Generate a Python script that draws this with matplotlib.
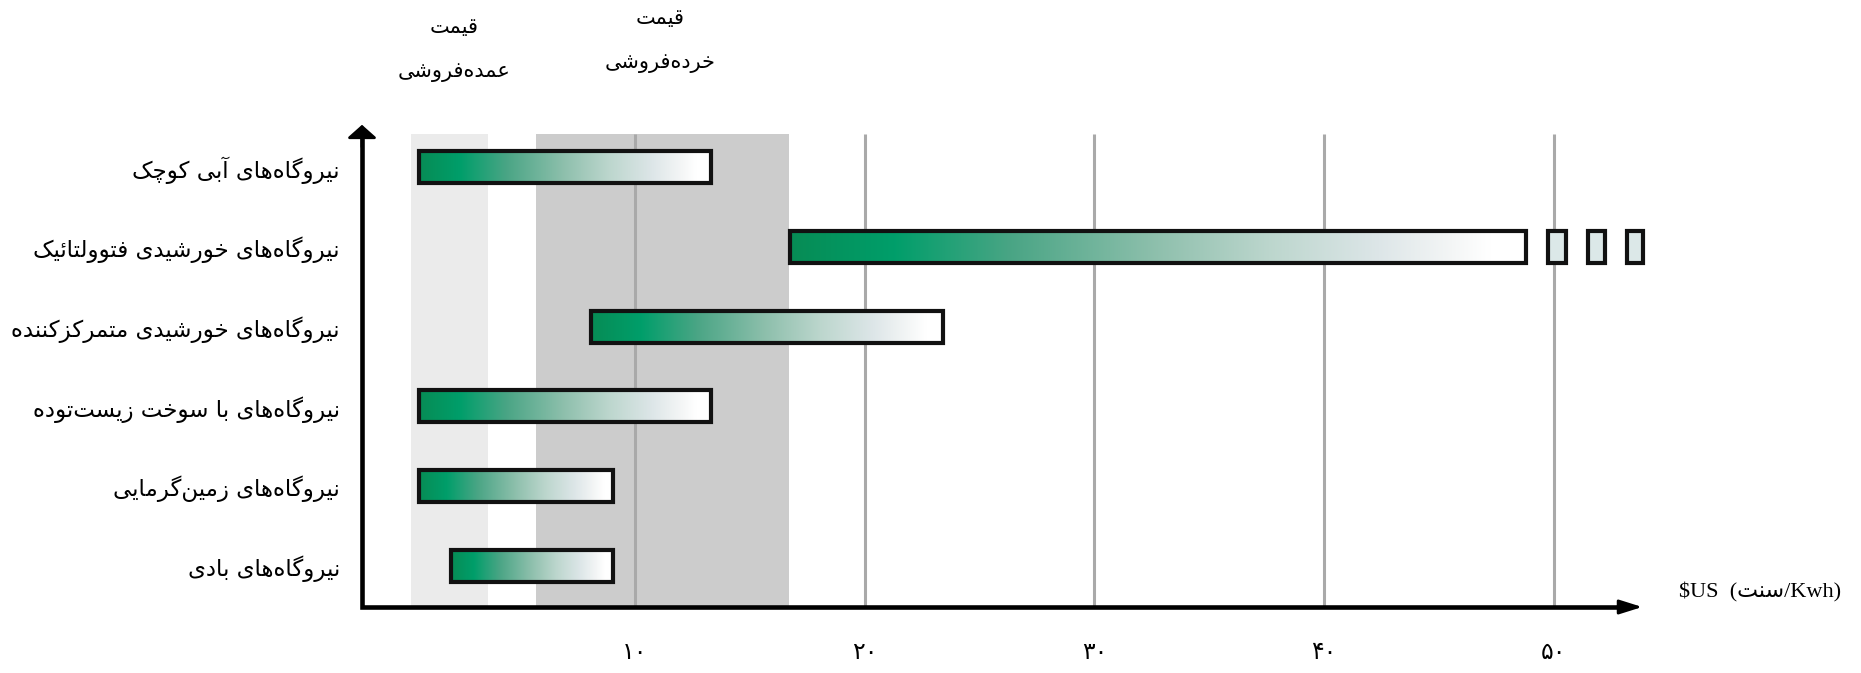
import numpy as np
import matplotlib
matplotlib.use('Agg')
import matplotlib.pyplot as plt
from matplotlib.colors import LinearSegmentedColormap
from matplotlib.patches import Rectangle

# data (cents / kWh)
plants = [
    'نیروگاه\u200cهای بادی',
    'نیروگاه\u200cهای زمین\u200cگرمایی',
    'نیروگاه\u200cهای با سوخت زیست\u200cتوده',
    'نیروگاه\u200cهای خورشیدی متمرکزکننده',
    'نیروگاه\u200cهای خورشیدی فتوولتائیک',
    'نیروگاه\u200cهای آبی کوچک',
]
cost_low = [2.0, 0.6, 0.6, 8.07, 16.75, 0.6]
cost_high = [9.05, 9.05, 13.3, 23.4, 48.8, 13.3]
pv_more = [(49.75, 50.55), (51.5, 52.25), (53.2, 53.9)]  # the three little "..." boxes

wholesale = (0.24, 3.61)
retail = (5.68, 16.69)
band_labels = ['قیمت\nعمده\u200cفروشی', 'قیمت\nخرده\u200cفروشی']

xticks = [10, 20, 30, 40, 50]
xtick_labels = ['۱۰', '۲۰', '۳۰', '۴۰', '۵۰']
unit_word = 'سنت'


# matplotlib does no arabic shaping, so do it by hand
FORMS = {
    'ا': ('\uFE8D', '\uFE8E', None, None),
    'آ': ('\uFE81', '\uFE82', None, None),
    'ب': ('\uFE8F', '\uFE90', '\uFE91', '\uFE92'),
    'ت': ('\uFE95', '\uFE96', '\uFE97', '\uFE98'),
    'چ': ('\uFB7A', '\uFB7B', '\uFB7C', '\uFB7D'),
    'خ': ('\uFEA5', '\uFEA6', '\uFEA7', '\uFEA8'),
    'د': ('\uFEA9', '\uFEAA', None, None),
    'ر': ('\uFEAD', '\uFEAE', None, None),
    'ز': ('\uFEAF', '\uFEB0', None, None),
    'س': ('\uFEB1', '\uFEB2', '\uFEB3', '\uFEB4'),
    'ش': ('\uFEB5', '\uFEB6', '\uFEB7', '\uFEB8'),
    'ع': ('\uFEC9', '\uFECA', '\uFECB', '\uFECC'),
    'ف': ('\uFED1', '\uFED2', '\uFED3', '\uFED4'),
    'ق': ('\uFED5', '\uFED6', '\uFED7', '\uFED8'),
    'ک': ('\uFB8E', '\uFB8F', '\uFB90', '\uFB91'),
    'گ': ('\uFB92', '\uFB93', '\uFB94', '\uFB95'),
    'ل': ('\uFEDD', '\uFEDE', '\uFEDF', '\uFEE0'),
    'م': ('\uFEE1', '\uFEE2', '\uFEE3', '\uFEE4'),
    'ن': ('\uFEE5', '\uFEE6', '\uFEE7', '\uFEE8'),
    'ه': ('\uFEE9', '\uFEEA', '\uFEEB', '\uFEEC'),
    'و': ('\uFEED', '\uFEEE', None, None),
    'ی': ('\uFBFC', '\uFBFD', '\uFBFE', '\uFBFF'),
    'ئ': ('\uFE89', '\uFE8A', '\uFE8B', '\uFE8C'),
}


def shape_line(txt):
    txt = txt.replace('ي', 'ی').replace('ك', 'ک')
    out = []
    for i, c in enumerate(txt):
        if c == '\u200c':
            continue
        if c not in FORMS:
            out.append(c)
            continue
        f = FORMS[c]
        prev = txt[i - 1] if i > 0 else ''
        nxt = txt[i + 1] if i < len(txt) - 1 else ''
        jp = prev in FORMS and FORMS[prev][2] is not None
        jn = f[2] is not None and nxt in FORMS
        if jp and jn:
            out.append(f[3])
        elif jp:
            out.append(f[1])
        elif jn:
            out.append(f[2])
        else:
            out.append(f[0])
    return ''.join(out)[::-1]


def fa(txt):
    return '\n'.join(shape_line(l) for l in txt.split('\n'))


plt.rcParams['font.family'] = ['DejaVu Sans']

fig = plt.figure(figsize=(18.61, 6.73), dpi=100)
ax = fig.add_axes([362 / 1861, 66 / 673, 1283 / 1861, 485 / 673])
ax.set_xlim(-1.885, 53.97)
ax.set_ylim(-0.514, 5.564)
band_top = 5.414

for (a, b), col in [(wholesale, '#ebebeb'), (retail, '#cccccc')]:
    ax.fill_betweenx([-0.514, band_top], a, b, color=col, lw=0, zorder=0)
ax.vlines(xticks, -0.514, band_top, color='#a9a9a9', lw=2.2, zorder=1)

cmap = LinearSegmentedColormap.from_list('g', [
    (0.0, '#078c55'), (0.14, '#009e6a'), (0.3, '#4aa585'), (0.5, '#8fc0ad'),
    (0.65, '#bcd6cd'), (0.8, '#dde6e8'), (0.9, '#f4f6f6'), (0.95, '#ffffff'),
    (1.0, '#ffffff')])
grad = np.linspace(0, 1, 256).reshape(1, -1)
h = 0.40
for i in range(len(plants)):
    lo, hi = cost_low[i], cost_high[i]
    ax.imshow(grad, extent=[lo, hi, i - h / 2, i + h / 2], aspect='auto',
              cmap=cmap, interpolation='bilinear', zorder=2)
    ax.add_patch(Rectangle((lo, i - h / 2), hi - lo, h, fill=False,
                           ec='#111111', lw=3.0, zorder=3))
for lo, hi in pv_more:
    ax.add_patch(Rectangle((lo, 4 - h / 2), hi - lo, h, fc='#dce8e8',
                           ec='#111111', lw=3.0, zorder=3, clip_on=False))

ax.set_xlim(-1.885, 53.97)
ax.set_ylim(-0.514, 5.564)

for s in ax.spines.values():
    s.set_visible(False)
ax.set_yticks(range(len(plants)))
ax.set_yticklabels([fa(p) for p in plants], fontsize=16.5)
ax.set_xticks(xticks)
ax.set_xticklabels(xtick_labels, fontsize=17)
ax.tick_params(axis='y', length=0, pad=16)
ax.tick_params(axis='x', length=0, pad=24)

# axes with arrow heads
ax.plot([0, 0, 0.985], [0.975, 0, 0], transform=ax.transAxes, color='k',
        lw=3.3, clip_on=False, solid_joinstyle='miter', solid_capstyle='butt', zorder=4)
ax.annotate('', xy=(1, 0), xycoords='axes fraction', xytext=(-22, 0),
            textcoords='offset points',
            arrowprops=dict(arrowstyle='-|>,head_length=0.7,head_width=0.22',
                            mutation_scale=20, color='k', lw=2), zorder=5)
ax.annotate('', xy=(0, 1), xycoords='axes fraction', xytext=(0, -20),
            textcoords='offset points',
            arrowprops=dict(arrowstyle='-|>,head_length=0.4,head_width=0.45',
                            mutation_scale=20, color='k', lw=2), zorder=5)

ax.text(sum(wholesale) / 2 + 0.2, 6.47, fa(band_labels[0]), ha='center', va='center',
        fontsize=15, linespacing=2.5, clip_on=False)
ax.text(sum(retail) / 2 - 0.1, 6.59, fa(band_labels[1]), ha='center', va='center',
        fontsize=15, linespacing=2.5, clip_on=False)

ax.text(59.0, -0.326, '$US  (' + fa(unit_word) + '/Kwh)', ha='center', va='center',
        fontsize=16, family=['Liberation Serif', 'DejaVu Sans'], clip_on=False)

fig.savefig('out.png', dpi=100)
